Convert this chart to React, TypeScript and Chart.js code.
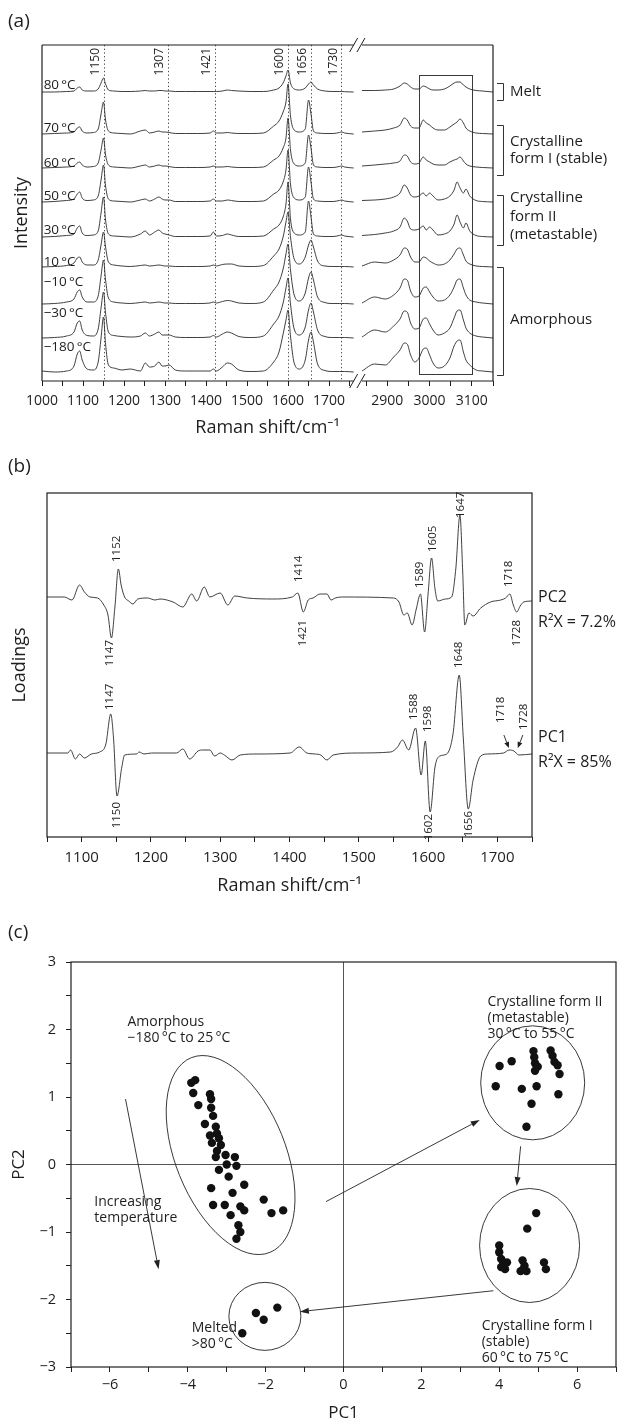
import React, { useEffect, useRef } from 'react';
import { Chart, registerables, LinearScale } from 'chart.js';

Chart.register(...registerables);

const FONT = '"Open Sans", "Noto Sans", "DejaVu Sans", sans-serif';
const INK = '#1e1e1e';
const TRACE = '#2a2a2a';

/* ===================== (a) Raman spectra ===================== */
const SHIFT_LOW = [1000, 1030, 1060, 1078, 1086, 1092, 1098, 1110, 1125, 1137, 1144, 1150, 1155, 1162, 1175, 1195, 1215, 1240, 1252, 1262, 1275, 1285, 1293, 1300, 1310, 1325, 1350, 1380, 1410, 1418, 1425, 1440, 1452, 1462, 1480, 1510, 1540, 1565, 1578, 1588, 1595, 1600, 1606, 1615, 1628, 1642, 1650, 1656, 1662, 1672, 1690, 1710, 1725, 1731, 1738, 1760];
const SHIFT_HIGH = [2840, 2870, 2895, 2915, 2930, 2940, 2947, 2955, 2965, 2975, 2985, 2992, 3000, 3008, 3020, 3035, 3048, 3058, 3065, 3072, 3080, 3086, 3095, 3110, 3125, 3150];

const TEMPERATURES = ['80\u2009°C', '70\u2009°C', '60\u2009°C', '50\u2009°C', '30\u2009°C', '10\u2009°C', '\u221210\u2009°C', '\u221230\u2009°C', '\u2212180\u2009°C'];
const BASELINES = [289, 247, 213, 179, 144, 114, 77, 43, 9];
const LABEL_RISE = [7, 6, 5, 6, 7, 5, 22, 25, 25];

const I80_LOW = [0, 0, 0.5, 1, 4, 5, 2, 1, 1, 3, 9, 14, 8, 2, 1, 0.5, 0.5, 1, 1.5, 1, 1, 1.5, 1.5, 1, 1, 0.5, 0.5, 0.5, 0.5, 0.5, 0.5, 1, 2, 1.5, 1, 0.5, 0.5, 2, 4, 9, 16, 22, 9, 3, 2, 4, 8, 10, 7, 3, 1, 0.5, 0.5, 0.5, 0.3, 0];
const I70_LOW = [0, 0.5, 1, 2, 6, 7, 3, 1, 1.5, 5, 20, 32, 14, 3, 1, 0.5, 0, 3, 4, 1, 2, 3, 2, 2, 1.5, 0.5, 0.5, 0.5, 1, 3, 1, 1, 1.5, 1, 0.5, 0.5, 1, 8, 13, 22, 32, 50, 18, 4, 2, 5, 34, 20, 3, 1, 0.5, 0.5, 1.5, 2, 1, 0];
const I60_LOW = [0, 0.5, 1, 2, 5, 6, 3, 1, 1.5, 5, 18, 30, 13, 3, 1, 0.5, 0, 2, 3, 1, 2, 3, 2, 2, 1.5, 0.5, 0.5, 0.5, 1, 2, 1, 1, 1.5, 1, 0.5, 0.5, 1, 8, 12, 20, 30, 50, 18, 4, 2, 5, 33, 20, 3, 1, 0.5, 0.5, 1.5, 2, 1, 0];
const I50_LOW = [0, 0.5, 1.5, 3, 8, 10, 4, 1.5, 2, 6, 22, 37, 16, 3, 1, 0.5, 0, 2, 3, 1, 3, 5, 3, 2, 2, 0.5, 0.5, 0.5, 1, 3, 1, 1, 2, 1.5, 0.5, 0.5, 1, 8, 12, 20, 32, 52, 18, 4, 2, 5, 35, 20, 3, 1, 0.5, 0.5, 1.5, 2, 1, 0];
const I30_LOW = [0, 0.5, 1.5, 3, 9, 11, 4, 1.5, 2, 6, 24, 40, 17, 3, 1, 0.5, 0, 3, 6, 2, 5, 7, 4, 3, 2, 0.5, 0.5, 0.5, 1, 5, 1, 1.5, 3, 2, 0.5, 0.5, 1, 8, 12, 20, 33, 55, 18, 4, 2, 5, 36, 20, 3, 1, 0.5, 0.5, 1.5, 2, 1, 0];
const I10_LOW = [0, 0.5, 1.5, 4, 9, 10, 5, 2, 2, 7, 22, 35, 20, 5, 2, 1, 0.5, 1.5, 2, 1, 1.5, 2, 1.5, 1, 1, 0.5, 0.5, 0.5, 1, 2, 1, 2.5, 3, 3, 1, 0.5, 1.5, 11, 18, 30, 45, 55, 30, 8, 3, 10, 22, 27, 20, 6, 1, 0.5, 0.5, 0.5, 0.5, 0];
const IM10_LOW = [0, 0.5, 2, 5, 12, 14, 7, 2, 2, 8, 28, 44, 24, 6, 2, 1, 0.5, 1.5, 2, 1, 1.5, 2, 1.5, 1, 1, 0.5, 0.5, 0.5, 1, 2, 1, 2.5, 3.5, 3, 1, 0.5, 2, 14, 22, 35, 50, 60, 34, 9, 3, 11, 26, 32, 24, 7, 1.5, 0.5, 0.5, 0.5, 0.5, 0];
const IM30_LOW = [0, 0.5, 2, 6, 15, 17, 8, 2.5, 2, 9, 30, 46, 25, 6, 2.5, 1.5, 1, 2, 5, 2, 4, 6, 3, 3, 3, 1, 0.5, 0.5, 1, 2.5, 1, 4, 6, 5, 1.5, 0.5, 2, 14, 22, 35, 50, 60, 34, 9, 3, 11, 28, 35, 26, 8, 1.5, 0.5, 0.5, 0.5, 0.5, 0];
const IM180_LOW = [1, 0, 1, 6, 18, 21, 12, 3, 2, 10, 34, 55, 28, 7, 4, 2, 3, 1, 9, 5, 6, 10, 6, 6, 7, 2, 1, 1, 1, 3, 1, 5, 9, 8, 2, 0.5, 1, 10, 20, 38, 52, 62, 36, 9, 3, 12, 32, 40, 30, 8, 1.5, 0.5, 0.5, 0.5, 0.5, 0];

const I80_HIGH = [1.5, 1.5, 2, 3, 6, 9, 8, 5, 3, 3, 6, 5, 3, 2, 2, 3, 6, 9, 10, 10, 7, 5, 3, 1.5, 1, 0];
const I70_HIGH = [2, 3, 4, 6, 9, 16, 14, 8, 6, 6, 14, 11, 9, 6, 4, 4, 7, 10, 12, 15, 11, 6, 3, 1, 0.5, 0];
const I60_HIGH = [2, 3, 4, 5, 7, 13, 12, 6, 4, 5, 11, 8, 6, 4, 3, 3, 6, 8, 9, 11, 7, 4, 2, 1, 0.5, 0];
const I50_HIGH = [1.5, 2, 3, 5, 9, 17, 14, 7, 5, 6, 9, 6, 9, 6, 2, 3, 6, 12, 20, 14, 9, 13, 6, 1.5, 0.5, 0];
const I30_HIGH = [1.5, 2.5, 4, 6, 10, 19, 16, 8, 7, 8, 11, 7, 10, 7, 2, 3, 6, 13, 22, 15, 9, 14, 6, 1.5, 0.5, 0];
const I10_HIGH = [1, 5, 4, 7, 12, 19, 18, 10, 5, 5, 10, 9, 6, 4, 2, 3, 7, 13, 18, 19, 12, 6, 3, 1, 0.5, 0];
const IM10_HIGH = [1, 7, 5, 9, 16, 25, 24, 13, 7, 8, 16, 17, 12, 7, 3, 4, 9, 17, 24, 25, 16, 9, 4, 2, 1, 0];
const IM30_HIGH = [1, 8, 6, 12, 19, 27, 26, 15, 9, 10, 19, 20, 14, 8, 3, 5, 10, 20, 27, 28, 18, 10, 5, 2, 1, 0];
const IM180_HIGH = [1, 8, 7, 15, 22, 29, 28, 17, 10, 14, 23, 24, 17, 9, 4, 6, 14, 26, 31, 32, 20, 12, 7, 2, 1, 0];

const SPECTRA_LOW = [I80_LOW, I70_LOW, I60_LOW, I50_LOW, I30_LOW, I10_LOW, IM10_LOW, IM30_LOW, IM180_LOW];
const SPECTRA_HIGH = [I80_HIGH, I70_HIGH, I60_HIGH, I50_HIGH, I30_HIGH, I10_HIGH, IM10_HIGH, IM30_HIGH, IM180_HIGH];

const MARKER_SHIFTS = [1150, 1307, 1421, 1600, 1656, 1730];
const A_TICKS = [1000, 1050, 1100, 1150, 1200, 1250, 1300, 1350, 1400, 1450, 1500, 1550, 1600, 1650, 1700, 1750, 2850, 2900, 2950, 3000, 3050, 3100, 3150];
const CH_BOX_SHIFT = [2974, 3100];
const CH_BOX_LEVEL = [7, 306];

const PHASES = [
  { lines: ['Melt'], top: 298, bottom: 281, textLevels: [289] },
  { lines: ['Crystalline', 'form I (stable)'], top: 256, bottom: 206, textLevels: [239, 222] },
  { lines: ['Crystalline', 'form II', '(metastable)'], top: 186, bottom: 136, textLevels: [183, 164, 146] },
  { lines: ['Amorphous'], top: 114, bottom: 6, textLevels: [61] },
];

/* broken axis 1000–1760 | 2840–3150 */
const AXIS_BREAK = { lowMin: 1000, lowMax: 1760, highMin: 2840, highMax: 3150, lowFrac: 0.691, highFrac: 0.7095 };

function brokenDecimal(v: number) {
  const b = AXIS_BREAK;
  if (v <= b.lowMax) return ((v - b.lowMin) / (b.lowMax - b.lowMin)) * b.lowFrac;
  if (v >= b.highMin) return b.highFrac + ((v - b.highMin) / (b.highMax - b.highMin)) * (1 - b.highFrac);
  return b.lowFrac + ((v - b.lowMax) / (b.highMin - b.lowMax)) * (b.highFrac - b.lowFrac);
}
function brokenValue(d: number) {
  const b = AXIS_BREAK;
  if (d <= b.lowFrac) return b.lowMin + (d / b.lowFrac) * (b.lowMax - b.lowMin);
  if (d >= b.highFrac) return b.highMin + ((d - b.highFrac) / (1 - b.highFrac)) * (b.highMax - b.highMin);
  return b.lowMax + ((d - b.lowFrac) / (b.highFrac - b.lowFrac)) * (b.highMin - b.lowMax);
}

class BrokenLinearScale extends LinearScale {
  static id = 'brokenLinear';
  static defaults = LinearScale.defaults;
  getPixelForValue(value: any) {
    if (value === null || value === undefined || Number.isNaN(+value)) return NaN;
    return this.getPixelForDecimal(brokenDecimal(+value));
  }
  getValueForPixel(pixel: number) {
    return brokenValue(this.getDecimalForPixel(pixel));
  }
}
Chart.register(BrokenLinearScale as any);

/* ===================== (b) PCA loadings ===================== */
const PC2_SHIFT = [1050, 1075, 1086, 1097, 1104, 1112, 1123, 1132, 1138, 1143, 1148, 1153, 1157, 1162, 1168, 1174, 1181, 1195, 1206, 1213, 1232, 1246, 1259, 1266, 1277, 1285, 1300, 1311, 1321, 1339, 1376, 1404, 1412, 1420, 1427, 1434, 1444, 1454, 1460, 1466, 1475, 1550, 1558, 1565, 1570, 1577, 1583, 1589, 1595, 1600, 1605, 1610, 1614, 1625, 1634, 1640, 1646, 1650, 1653, 1659, 1665, 1676, 1690, 1705, 1712, 1718, 1723, 1728, 1733, 1738, 1750];
const PC2_LOAD = [0, 0, -3, 12, 5, 0, -1, -8, -18, -41, -10, 28, 12, 0, -4, -7, -2, -1, -3, -2, -5, -10, 3, -4, 10, 0, 4, -8, 1, -1, -2, 0, 4, -15, -3, -1, 3, 3, -3, -1, 0, -1, -5, -18, -16, -28, -12, 3, -35, 3, 39, 8, -4, -2, 0, 28, 82, 25, -28, -16, -19, -11, -5, -3, -1, 3, -8, -15, -9, -5, -4];
const PC1_SHIFT = [1050, 1080, 1084, 1091, 1097, 1104, 1114, 1126, 1135, 1142, 1146, 1151, 1158, 1162, 1179, 1183, 1190, 1201, 1237, 1246, 1256, 1268, 1275, 1285, 1292, 1300, 1306, 1317, 1329, 1353, 1401, 1414, 1425, 1437, 1445, 1454, 1463, 1498, 1546, 1556, 1563, 1572, 1582, 1590, 1596, 1603, 1610, 1617, 1627, 1636, 1645, 1651, 1658, 1665, 1676, 1686, 1709, 1717, 1724, 1731, 1750];
const PC1_LOAD = [0, 0, 3, -6, -1, -5, -1, 1, 9, 39, 15, -43, -14, -2, -1, 1, -1, 0, 0, 4, -6, 2, 3, 3, -3, 0, -2, -7, -2, -1, 0, 6, 0, -1, -2, -7, -2, 0, 1, 6, 13, 3, 25, -22, 12, -59, -14, -3, -1, 19, 78, 13, -56, -27, -3, -1, 0, 3, 2, -2, -1];
const PC2_OFFSET = 240;
const PC1_OFFSET = 84;

const LOADING_LABELS = [
  { text: '1152', x: 1150.6, y: 275, dir: 'up' },
  { text: '1414', x: 1412.6, y: 255, dir: 'up' },
  { text: '1421', x: 1419.8, y: 217, dir: 'down' },
  { text: '1589', x: 1587.7, y: 249, dir: 'up' },
  { text: '1605', x: 1606.5, y: 285, dir: 'up' },
  { text: '1647', x: 1647, y: 319, dir: 'up' },
  { text: '1718', x: 1716.5, y: 250, dir: 'up' },
  { text: '1728', x: 1728, y: 217, dir: 'down' },
  { text: '1147', x: 1140.5, y: 197, dir: 'down' },
  { text: '1147', x: 1140.5, y: 127, dir: 'up' },
  { text: '1150', x: 1150.6, y: 35, dir: 'down' },
  { text: '1588', x: 1579, y: 117, dir: 'up' },
  { text: '1598', x: 1599, y: 105, dir: 'up' },
  { text: '1602', x: 1600.7, y: 23, dir: 'down' },
  { text: '1648', x: 1644, y: 169, dir: 'up' },
  { text: '1656', x: 1658.6, y: 26, dir: 'down' },
  { text: '1718', x: 1705, y: 114, dir: 'up' },
  { text: '1728', x: 1738, y: 107, dir: 'up' },
];
const LOADING_ARROWS = [
  [1709.4, 102, 1716.6, 89],
  [1736.8, 102, 1729.5, 89],
];
const PC_TEXTS = [
  { text: 'PC2', y: 240 },
  { text: 'R\u00B2X = 7.2%', y: 215 },
  { text: 'PC1', y: 100 },
  { text: 'R\u00B2X = 85%', y: 75 },
];

/* ===================== (c) score plot ===================== */
const AMORPH_PC1 = [-3.91, -3.81, -3.86, -3.73, -3.43, -3.40, -3.40, -3.35, -3.56, -3.28, -3.25, -3.43, -3.20, -3.38, -3.15, -3.25, -3.03, -2.79, -3.28, -3.0, -2.75, -3.2, -2.95, -3.4, -3.35, -3.05, -2.85, -2.55, -2.9, -2.7, -2.65, -2.75, -2.55, -2.65, -2.05, -1.85, -1.55];
const AMORPH_PC2 = [1.21, 1.25, 1.06, 0.88, 1.04, 0.97, 0.84, 0.72, 0.60, 0.56, 0.46, 0.43, 0.39, 0.32, 0.29, 0.20, 0.14, 0.11, 0.11, 0.0, -0.02, -0.08, -0.18, -0.35, -0.6, -0.6, -0.42, -0.3, -0.75, -0.9, -1.0, -1.1, -0.68, -0.62, -0.52, -0.72, -0.68];
const FORM2_PC1 = [4.01, 4.32, 4.88, 4.90, 4.92, 4.99, 4.92, 5.32, 5.37, 5.42, 5.50, 5.55, 3.91, 4.58, 4.96, 5.52, 4.83, 4.70];
const FORM2_PC2 = [1.46, 1.53, 1.68, 1.59, 1.50, 1.45, 1.39, 1.69, 1.61, 1.52, 1.47, 1.34, 1.16, 1.12, 1.16, 1.04, 0.90, 0.56];
const FORM1_PC1 = [4.0, 4.0, 4.05, 4.1, 4.15, 4.2, 4.6, 4.65, 4.55, 4.7, 4.62, 4.72, 4.95, 5.15, 5.2, 4.05];
const FORM1_PC2 = [-1.2, -1.3, -1.4, -1.48, -1.55, -1.45, -1.42, -1.5, -1.58, -1.58, -1.55, -0.95, -0.72, -1.45, -1.55, -1.52];
const MELT_PC1 = [-2.25, -2.05, -1.7, -2.6];
const MELT_PC2 = [-2.2, -2.3, -2.12, -2.5];

const GROUP_OUTLINES = [
  { cx: -2.9, cy: 0.14, rx: 55, ry: 105, rot: -22 },
  { cx: 4.86, cy: 1.21, rx: 52, ry: 57, rot: 0 },
  { cx: 4.78, cy: -1.2, rx: 50, ry: 57, rot: 0 },
  { cx: -2.02, cy: -2.25, rx: 36, ry: 34, rot: 0 },
];
const SCORE_ARROWS = [
  [-5.6, 0.97, -4.75, -1.55],
  [-0.45, -0.55, 3.5, 0.66],
  [4.55, 0.27, 4.45, -0.32],
  [3.85, -1.87, -1.12, -2.18],
];
const SCORE_TEXTS = [
  { lines: ['Amorphous', '\u2212180\u2009°C to 25\u2009°C'], x: -5.55, y: 2.11 },
  { lines: ['Crystalline form II', '(metastable)', '30\u2009°C to 55\u2009°C'], x: 3.7, y: 2.4 },
  { lines: ['Crystalline form I', '(stable)', '60\u2009°C to 75\u2009°C'], x: 3.55, y: -2.4 },
  { lines: ['Melted', '>80\u2009°C'], x: -3.9, y: -2.42 },
  { lines: ['Increasing', 'temperature'], x: -6.4, y: -0.55 },
];

/* ===================== helpers ===================== */
function seg(ctx: CanvasRenderingContext2D, x1: number, y1: number, x2: number, y2: number) {
  ctx.beginPath();
  ctx.moveTo(x1, y1);
  ctx.lineTo(x2, y2);
  ctx.stroke();
}
function vText(ctx: CanvasRenderingContext2D, text: string, x: number, y: number, align: CanvasTextAlign) {
  ctx.save();
  ctx.translate(x, y);
  ctx.rotate(-Math.PI / 2);
  ctx.textAlign = align;
  ctx.textBaseline = 'middle';
  ctx.fillText(text, 0, 0);
  ctx.restore();
}
function arrow(ctx: CanvasRenderingContext2D, x1: number, y1: number, x2: number, y2: number, head = 8, half = 3) {
  const a = Math.atan2(y2 - y1, x2 - x1);
  const bx = x2 - head * Math.cos(a);
  const by = y2 - head * Math.sin(a);
  seg(ctx, x1, y1, bx, by);
  ctx.beginPath();
  ctx.moveTo(x2, y2);
  ctx.lineTo(bx + half * Math.sin(a), by - half * Math.cos(a));
  ctx.lineTo(bx - half * Math.sin(a), by + half * Math.cos(a));
  ctx.closePath();
  ctx.fill();
}
function panelLetter(ctx: CanvasRenderingContext2D, text: string, y: number) {
  ctx.save();
  ctx.fillStyle = INK;
  ctx.font = `19px ${FONT}`;
  ctx.textAlign = 'left';
  ctx.textBaseline = 'middle';
  ctx.fillText(text, 8, y);
  ctx.restore();
}

const tickFont = (size: number) => ({ family: FONT, size });

/* ===================== chart configs ===================== */
function configA(): any {
  const datasets = TEMPERATURES.map((t, i) => ({
    label: t,
    data: [
      ...SHIFT_LOW.map((x, j) => ({ x, y: BASELINES[i] + SPECTRA_LOW[i][j] })),
      { x: 1800, y: null },
      ...SHIFT_HIGH.map((x, j) => ({ x, y: BASELINES[i] + SPECTRA_HIGH[i][j] })),
    ],
    borderColor: TRACE,
    borderWidth: 0.9,
    pointRadius: 0,
    fill: false,
    cubicInterpolationMode: 'monotone',
  }));

  const decor = {
    id: 'decorA',
    beforeDatasetsDraw(chart: any) {
      const { ctx, chartArea: ca, scales } = chart;
      const x = scales.x, y = scales.y;
      ctx.save();
      ctx.strokeStyle = '#4a4a4a';
      ctx.lineWidth = 1;
      ctx.setLineDash([1.3, 2.4]);
      MARKER_SHIFTS.forEach((m) => {
        const px = Math.round(x.getPixelForValue(m)) + 0.5;
        seg(ctx, px, ca.top, px, ca.bottom);
      });
      ctx.setLineDash([]);
      const bx1 = x.getPixelForValue(CH_BOX_SHIFT[0]);
      const bx2 = x.getPixelForValue(CH_BOX_SHIFT[1]);
      const by1 = y.getPixelForValue(CH_BOX_LEVEL[1]);
      const by2 = y.getPixelForValue(CH_BOX_LEVEL[0]);
      ctx.strokeStyle = '#3a3a3a';
      ctx.lineWidth = 1;
      ctx.strokeRect(Math.round(bx1) + 0.5, Math.round(by1) + 0.5, Math.round(bx2 - bx1), Math.round(by2 - by1));
      ctx.restore();
    },
    afterDatasetsDraw(chart: any) {
      const { ctx, chartArea: ca, scales } = chart;
      const x = scales.x, y = scales.y;
      ctx.save();
      ctx.strokeStyle = INK;
      ctx.lineWidth = 1.2;
      const xb1 = x.getPixelForValue(AXIS_BREAK.lowMax);
      const xb2 = x.getPixelForValue(AXIS_BREAK.highMin);
      [ca.top, ca.bottom].forEach((yy: number) => {
        seg(ctx, ca.left, yy, xb1, yy);
        seg(ctx, xb2, yy, ca.right, yy);
        ctx.lineWidth = 1;
        seg(ctx, xb1 - 4, yy + 7, xb1 + 4, yy - 7);
        seg(ctx, xb2 - 5, yy + 7, xb2 + 3, yy - 7);
        ctx.lineWidth = 1.2;
      });
      seg(ctx, ca.left, ca.top, ca.left, ca.bottom);
      seg(ctx, ca.right, ca.top, ca.right, ca.bottom);

      ctx.fillStyle = INK;
      ctx.font = `12px ${FONT}`;
      MARKER_SHIFTS.forEach((m) => {
        const px = x.getPixelForValue(m);
        vText(ctx, String(m), px - 8, ca.top + 3, 'right');
      });

      ctx.font = `13.5px ${FONT}`;
      ctx.textAlign = 'left';
      ctx.textBaseline = 'middle';
      TEMPERATURES.forEach((t, i) => {
        const px = x.getPixelForValue(1004);
        const py = y.getPixelForValue(BASELINES[i] + LABEL_RISE[i]);
        ctx.fillText(t, px, py);
      });

      ctx.strokeStyle = '#333';
      ctx.lineWidth = 1;
      ctx.font = `15px ${FONT}`;
      const bx = ca.right + 10.5;
      PHASES.forEach((p) => {
        const t = Math.round(y.getPixelForValue(p.top)) + 0.5;
        const b = Math.round(y.getPixelForValue(p.bottom)) + 0.5;
        ctx.beginPath();
        ctx.moveTo(ca.right + 4, t);
        ctx.lineTo(bx, t);
        ctx.lineTo(bx, b);
        ctx.lineTo(ca.right + 4, b);
        ctx.stroke();
        p.lines.forEach((s, k) => {
          ctx.fillText(s, ca.right + 17, y.getPixelForValue(p.textLevels[k]));
        });
      });
      ctx.restore();
      panelLetter(ctx, '(a)', 22);
    },
  };

  return {
    type: 'line',
    data: { datasets },
    options: {
      animation: false,
      responsive: false,
      maintainAspectRatio: false,
      layout: { padding: { left: 0, top: 45, right: 140, bottom: 1 } },
      plugins: { legend: { display: false }, tooltip: { enabled: false } },
      scales: {
        x: {
          type: 'brokenLinear',
          min: 1000,
          max: 3150,
          afterBuildTicks: (s: any) => {
            s.ticks = A_TICKS.map((v) => ({ value: v }));
          },
          afterFit: (s: any) => {
            s.height = 58;
          },
          border: { display: false },
          grid: { display: true, drawOnChartArea: false, drawTicks: true, tickLength: 5, tickColor: INK, tickWidth: 1 },
          ticks: {
            autoSkip: false,
            maxRotation: 0,
            padding: 7,
            color: INK,
            font: tickFont(14),
            callback: (v: any) => (Number(v) % 100 === 0 ? String(v) : ''),
          },
          title: { display: true, text: 'Raman shift/cm\u207B\u00B9', color: INK, font: { family: FONT, size: 18 }, padding: { top: 2, bottom: 0 } },
        },
        y: {
          min: 0,
          max: 336,
          afterFit: (s: any) => {
            s.width = 42;
          },
          border: { display: false },
          grid: { display: false },
          ticks: { display: false },
          title: { display: true, text: 'Intensity', color: INK, font: { family: FONT, size: 18 }, padding: { top: 11, bottom: 0 } },
        },
      },
    },
    plugins: [decor],
  };
}

function configB(): any {
  const mk = (xs: number[], ys: number[], off: number, label: string) => ({
    label,
    data: xs.map((x, i) => ({ x, y: off + ys[i] })),
    borderColor: TRACE,
    borderWidth: 0.9,
    pointRadius: 0,
    fill: false,
    cubicInterpolationMode: 'monotone',
  });
  const decor = {
    id: 'decorB',
    afterDatasetsDraw(chart: any) {
      const { ctx, chartArea: ca, scales } = chart;
      const x = scales.x, y = scales.y;
      ctx.save();
      ctx.strokeStyle = INK;
      ctx.lineWidth = 1.2;
      ctx.strokeRect(ca.left, ca.top, ca.right - ca.left, ca.bottom - ca.top);
      ctx.fillStyle = INK;
      ctx.font = `11.5px ${FONT}`;
      LOADING_LABELS.forEach((l) => {
        vText(ctx, l.text, x.getPixelForValue(l.x), y.getPixelForValue(l.y), l.dir === 'up' ? 'left' : 'right');
      });
      ctx.strokeStyle = INK;
      ctx.lineWidth = 0.9;
      LOADING_ARROWS.forEach((a) => {
        arrow(ctx, x.getPixelForValue(a[0]), y.getPixelForValue(a[1]), x.getPixelForValue(a[2]), y.getPixelForValue(a[3]), 6, 2.5);
      });
      ctx.font = `16px ${FONT}`;
      ctx.textAlign = 'left';
      ctx.textBaseline = 'middle';
      PC_TEXTS.forEach((p) => ctx.fillText(p.text, ca.right + 6, y.getPixelForValue(p.y)));
      ctx.restore();
      panelLetter(ctx, '(b)', 27);
    },
  };
  return {
    type: 'line',
    data: { datasets: [mk(PC2_SHIFT, PC2_LOAD, PC2_OFFSET, 'PC2'), mk(PC1_SHIFT, PC1_LOAD, PC1_OFFSET, 'PC1')] },
    options: {
      animation: false,
      responsive: false,
      maintainAspectRatio: false,
      layout: { padding: { left: 0, top: 53, right: 101, bottom: 3 } },
      plugins: { legend: { display: false }, tooltip: { enabled: false } },
      scales: {
        x: {
          type: 'linear',
          min: 1050,
          max: 1750,
          afterFit: (s: any) => {
            s.height = 60;
          },
          border: { display: false },
          grid: { display: true, drawOnChartArea: false, drawTicks: true, tickLength: 5, tickColor: INK, tickWidth: 1 },
          ticks: {
            stepSize: 50,
            autoSkip: false,
            maxRotation: 0,
            padding: 7,
            color: INK,
            font: tickFont(15),
            callback: (v: any) => (Number(v) % 100 === 0 ? String(v) : ''),
          },
          title: { display: true, text: 'Raman shift/cm\u207B\u00B9', color: INK, font: { family: FONT, size: 18 }, padding: { top: 4, bottom: 0 } },
        },
        y: {
          min: 0,
          max: 344,
          afterFit: (s: any) => {
            s.width = 47;
          },
          border: { display: false },
          grid: { display: false },
          ticks: { display: false },
          title: { display: true, text: 'Loadings', color: INK, font: { family: FONT, size: 18 }, padding: { top: 9, bottom: 0 } },
        },
      },
    },
    plugins: [decor],
  };
}

function configC(): any {
  const pts = (xs: number[], ys: number[], label: string) => ({
    label,
    data: xs.map((x, i) => ({ x, y: ys[i] })),
    backgroundColor: '#111',
    borderWidth: 0,
    pointRadius: 4.2,
  });
  const minus = (v: number) => (v < 0 ? '\u2212' + Math.abs(v) : String(v));
  const decor = {
    id: 'decorC',
    afterDatasetsDraw(chart: any) {
      const { ctx, chartArea: ca, scales } = chart;
      const x = scales.x, y = scales.y;
      ctx.save();
      ctx.strokeStyle = INK;
      ctx.lineWidth = 1.2;
      ctx.strokeRect(ca.left, ca.top, ca.right - ca.left, ca.bottom - ca.top);
      ctx.lineWidth = 0.9;
      ctx.strokeStyle = '#222';
      GROUP_OUTLINES.forEach((g) => {
        ctx.beginPath();
        ctx.ellipse(x.getPixelForValue(g.cx), y.getPixelForValue(g.cy), g.rx, g.ry, (g.rot * Math.PI) / 180, 0, Math.PI * 2);
        ctx.stroke();
      });
      ctx.fillStyle = '#222';
      SCORE_ARROWS.forEach((a) => {
        arrow(ctx, x.getPixelForValue(a[0]), y.getPixelForValue(a[1]), x.getPixelForValue(a[2]), y.getPixelForValue(a[3]), 9, 3);
      });
      ctx.fillStyle = INK;
      ctx.font = `14px ${FONT}`;
      ctx.textAlign = 'left';
      ctx.textBaseline = 'middle';
      SCORE_TEXTS.forEach((t) => {
        const px = x.getPixelForValue(t.x);
        const py = y.getPixelForValue(t.y);
        t.lines.forEach((s, k) => ctx.fillText(s, px, py + k * 16));
      });
      ctx.restore();
      panelLetter(ctx, '(c)', 33);
    },
  };
  return {
    type: 'scatter',
    data: {
      datasets: [
        pts(AMORPH_PC1, AMORPH_PC2, 'Amorphous'),
        pts(FORM2_PC1, FORM2_PC2, 'Form II'),
        pts(FORM1_PC1, FORM1_PC2, 'Form I'),
        pts(MELT_PC1, MELT_PC2, 'Melted'),
      ],
    },
    options: {
      animation: false,
      responsive: false,
      maintainAspectRatio: false,
      layout: { padding: { left: 0, top: 62, right: 17, bottom: 0 } },
      plugins: { legend: { display: false }, tooltip: { enabled: false } },
      scales: {
        x: {
          type: 'linear',
          min: -7,
          max: 7,
          afterFit: (s: any) => {
            s.height = 56;
          },
          border: { display: false },
          grid: {
            display: true,
            drawOnChartArea: true,
            drawTicks: true,
            tickLength: 5,
            tickColor: INK,
            tickWidth: 1,
            lineWidth: 1,
            color: (c: any) => (c.tick && c.tick.value === 0 ? '#555' : 'rgba(0,0,0,0)'),
          },
          ticks: {
            stepSize: 1,
            autoSkip: false,
            maxRotation: 0,
            padding: 4,
            color: INK,
            font: tickFont(14.5),
            callback: (v: any) => (Math.abs(Number(v)) % 2 === 0 ? minus(Number(v)) : ''),
          },
          title: { display: true, text: 'PC1', color: INK, font: { family: FONT, size: 17 }, padding: { top: 3, bottom: 0 } },
        },
        y: {
          min: -3,
          max: 3,
          afterFit: (s: any) => {
            s.width = 71;
          },
          border: { display: false },
          grid: {
            display: true,
            drawOnChartArea: true,
            drawTicks: true,
            tickLength: 5,
            tickColor: INK,
            tickWidth: 1,
            lineWidth: 1,
            color: (c: any) => (c.tick && c.tick.value === 0 ? '#555' : 'rgba(0,0,0,0)'),
          },
          ticks: {
            stepSize: 0.5,
            autoSkip: false,
            padding: 10,
            color: INK,
            font: tickFont(14.5),
            callback: (v: any) => (Number.isInteger(Number(v)) ? minus(Number(v)) : ''),
          },
          title: { display: true, text: 'PC2', color: INK, font: { family: FONT, size: 17 }, padding: { top: 9, bottom: 0 } },
        },
      },
    },
    plugins: [decor],
  };
}

export default function App() {
  const refA = useRef<HTMLCanvasElement>(null);
  const refB = useRef<HTMLCanvasElement>(null);
  const refC = useRef<HTMLCanvasElement>(null);

  useEffect(() => {
    const a = new Chart(refA.current as HTMLCanvasElement, configA());
    const b = new Chart(refB.current as HTMLCanvasElement, configB());
    const c = new Chart(refC.current as HTMLCanvasElement, configC());
    return () => {
      a.destroy();
      b.destroy();
      c.destroy();
    };
  }, []);

  return (
    <div style={{ position: 'absolute', left: 0, top: 0, width: 633, height: 1423, background: '#fff', overflow: 'hidden' }}>
      <canvas ref={refA} width={633} height={440} style={{ position: 'absolute', left: 0, top: 0, width: 633, height: 440 }} />
      <canvas ref={refB} width={633} height={460} style={{ position: 'absolute', left: 0, top: 440, width: 633, height: 460 }} />
      <canvas ref={refC} width={633} height={523} style={{ position: 'absolute', left: 0, top: 900, width: 633, height: 523 }} />
    </div>
  );
}
